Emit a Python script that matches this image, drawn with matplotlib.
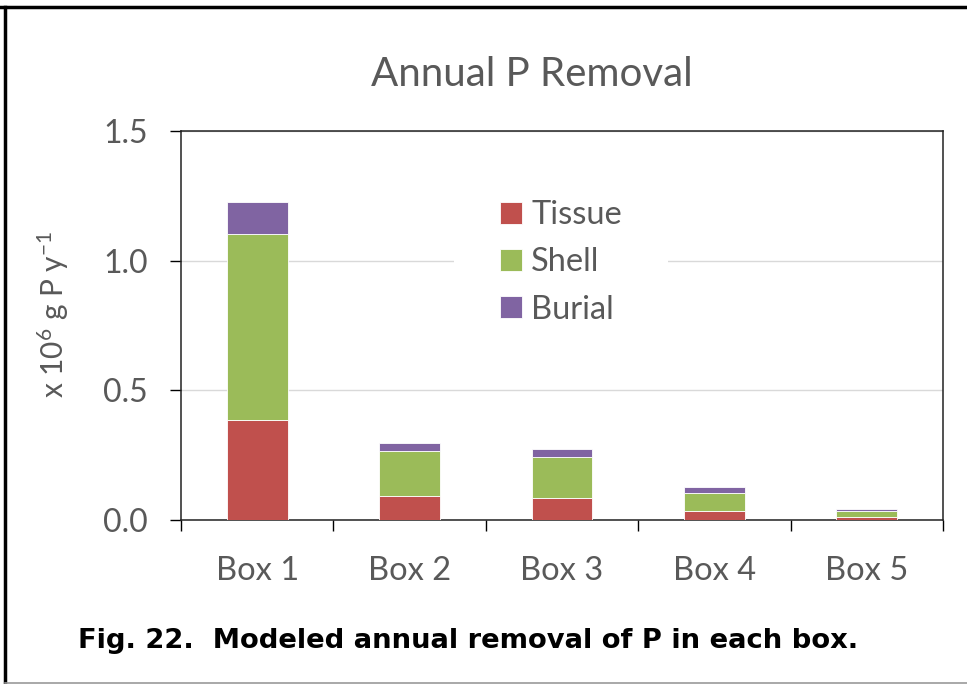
import matplotlib
matplotlib.use('Agg')
import matplotlib.pyplot as plt
from matplotlib.lines import Line2D
import numpy as np

# Data (x 10^6 g P / y)
boxes = ['Box 1', 'Box 2', 'Box 3', 'Box 4', 'Box 5']
tissue = [0.386, 0.094, 0.085, 0.035, 0.010]
shell = [0.717, 0.173, 0.157, 0.068, 0.025]
burial = [0.123, 0.029, 0.031, 0.025, 0.006]

# Office-ish colours
red, green, purple = '#C0504D', '#9BBB59', '#8064A2'
grey = '#595959'

def mplDefaults():
    plt.rc('font', family=['Lato', 'DejaVu Sans'], size=23)
    plt.rc('mathtext', default='regular')
mplDefaults()

fig = plt.figure(figsize=(9.67, 6.84), dpi=100)
ax = fig.add_axes([181/967, 1 - 520/684, (943 - 181)/967, (520 - 131)/684])

x = np.arange(len(boxes))
w = 0.40
b1 = np.array(tissue)
b2 = b1 + np.array(shell)
ax.bar(x, tissue, w, color=red, edgecolor='white', linewidth=0.6, label='Tissue', zorder=3)
ax.bar(x, shell, w, bottom=b1, color=green, edgecolor='white', linewidth=0.6, label='Shell', zorder=3)
ax.bar(x, burial, w, bottom=b2, color=purple, edgecolor='white', linewidth=0.6, label='Burial', zorder=3)

# Axes ranges / ticks
ax.set_xlim(-0.5, len(boxes) - 0.5)
ax.set_ylim(0, 1.5)
ax.set_yticks([0, 0.5, 1.0, 1.5])
ax.set_yticklabels(['0.0', '0.5', '1.0', '1.5'])
ax.set_xticks(np.arange(-0.5, len(boxes)), labels=[''] * (len(boxes) + 1))
ax.set_xticks(x, labels=boxes, minor=True)
ax.tick_params(axis='y', direction='out', length=8, width=1, colors='black',
               labelcolor=grey, pad=16, labelsize=23)
ax.tick_params(axis='x', which='major', direction='out', length=8, width=1, colors='black')
ax.tick_params(axis='x', which='minor', length=0, labelcolor=grey, pad=26, labelsize=23.5)
for s in ax.spines.values():
    s.set_color('#222222')
    s.set_linewidth(1.1)

# Gridlines
ax.yaxis.grid(True, color='#D9D9D9', linewidth=1)
ax.set_axisbelow(True)

leg = ax.legend(loc='upper left', bbox_to_anchor=(438/967, 1 - 138/684),
                bbox_transform=fig.transFigure, frameon=True, facecolor='white',
                edgecolor='none', framealpha=1, fancybox=False,
                handlelength=0.66, handleheight=0.66, handletextpad=0.3,
                labelspacing=0.53, borderpad=1.4, fontsize=23.5)
for t in leg.get_texts():
    t.set_color(grey)
leg.set_zorder(5)

# Titles
fig.text(532/967, 1 - 74/684, 'Annual P Removal', ha='center', va='center',
         fontsize=29, color=grey)
fig.text(53/967, 1 - 314/684, 'x 10$^6$ g P y$^{-1}$', ha='center', va='center',
         rotation=90, fontsize=21.5, color=grey)
fig.text(78/967, 1 - 641/684, 'Fig. 22.  Modeled annual removal of P in each box.',
         ha='left', va='center', fontsize=19.7, fontweight='bold', color='black',
         family='DejaVu Sans')

# Outer frame
fig.add_artist(Line2D([0, 1], [1 - 6.5/684] * 2, transform=fig.transFigure, color='black', lw=2.5))
fig.add_artist(Line2D([4.5/967] * 2, [1 - 6.5/684, 1 - 682/684], transform=fig.transFigure, color='black', lw=2.5))
fig.add_artist(Line2D([4.5/967, 1], [1 - 682.5/684] * 2, transform=fig.transFigure, color='#999999', lw=1.2))

fig.savefig('out.png', dpi=100)
